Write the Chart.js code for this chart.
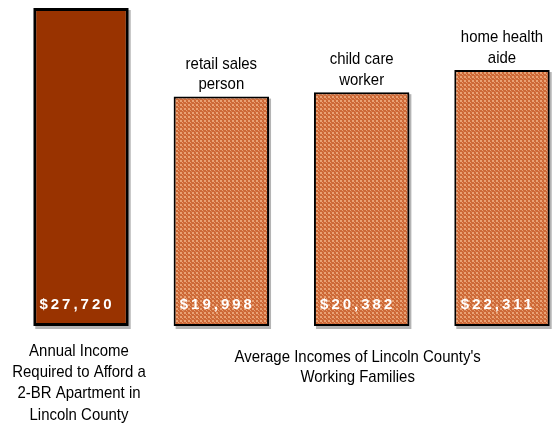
<!DOCTYPE html>
<html><head><meta charset="utf-8">
<script src="https://cdn.jsdelivr.net/npm/chart.js@4"></script>
<style>html,body{margin:0;padding:0;background:#fff}#wrap{width:558px;height:425px;position:relative}</style>
</head><body><div id="wrap"><canvas id="c"></canvas></div>
<script>
const categories = [["Annual Income","Required to Afford a","2-BR Apartment in","Lincoln County"],["retail sales","person"],["child care","worker"],["home health","aide"]];
const incomes = [27720, 19998, 20382, 22311];
const valueLabels = ["$27,720","$19,998","$20,382","$22,311"];
const groupLabel = ["Average Incomes of Lincoln County's","Working Families"];

function makePattern(){
  const p = document.createElement('canvas'); p.width=4; p.height=4;
  const g = p.getContext('2d');
  g.fillStyle='#CD6836'; g.fillRect(0,0,4,4);
  g.fillStyle='#E9A275'; g.fillRect(0,0,2,2); g.fillRect(2,2,1,1);
  g.fillStyle='#D9804F'; g.fillRect(3,3,1,1);
  return document.getElementById('c').getContext('2d').createPattern(p,'repeat');
}
const pat = makePattern();

function narrowText(ctx, t, x, y){
  ctx.save(); ctx.translate(x,y); ctx.scale(0.88,1); ctx.fillText(t,0,0); ctx.restore();
}

const textPlugin = {
  id:'texts',
  beforeDatasetsDraw(chart){
    const ctx = chart.ctx; const meta = chart.getDatasetMeta(0);
    ctx.save(); ctx.fillStyle='#b4b4b4';
    meta.data.forEach(b=>{
      const w=b.width; ctx.fillRect(b.x-w/2+2,b.y+2,w,b.base-b.y+1);
    });
    ctx.restore();
  },
  afterDatasetsDraw(chart){
    const ctx = chart.ctx; const meta = chart.getDatasetMeta(0);
    ctx.save();
    meta.data.forEach((b,i)=>{
      ctx.font = "bold 15px 'Liberation Sans','Arial',sans-serif";
      ctx.letterSpacing = '3px';
      ctx.fillStyle='#fff'; ctx.textAlign='center'; ctx.textBaseline='middle';
      ctx.fillText(valueLabels[i], b.x-4, b.base-21);
      ctx.letterSpacing = '0px';
      ctx.fillStyle='#000';
      ctx.font = "17px 'Liberation Sans','Arial',sans-serif";
      const lines = categories[i];
      if(i===0){
        lines.forEach((t,k)=>narrowText(ctx, t, b.x-2, 351+k*21.3));
      } else {
        const n=lines.length;
        lines.forEach((t,k)=>narrowText(ctx, t, b.x, b.y-12-(n-1-k)*20.5));
      }
    });
    const mid = (meta.data[1].x+meta.data[3].x)/2;
    groupLabel.forEach((t,k)=>narrowText(ctx, t, mid-4, 357+k*20.5));
    ctx.restore();
  }
};

new Chart(document.getElementById('c'), {
  type:'bar',
  data:{labels:categories.map(c=>c.join(' ')), datasets:[{
    data:incomes,
    backgroundColor:['#993300',pat,pat,pat],
    borderColor:'#000', borderWidth:[3,2,2,2], borderSkipped:false,
    categoryPercentage:0.68, barPercentage:1, clip:false
  }]},
  options:{
    responsive:true, maintainAspectRatio:false, animation:false,
    layout:{padding:{left:81,right:56,top:8,bottom:99}},
    plugins:{legend:{display:false},tooltip:{enabled:false}},
    scales:{
      x:{display:false, offset:false},
      y:{display:false, min:0, max:27720}
    }
  },
  plugins:[textPlugin]
});
</script></body></html>
